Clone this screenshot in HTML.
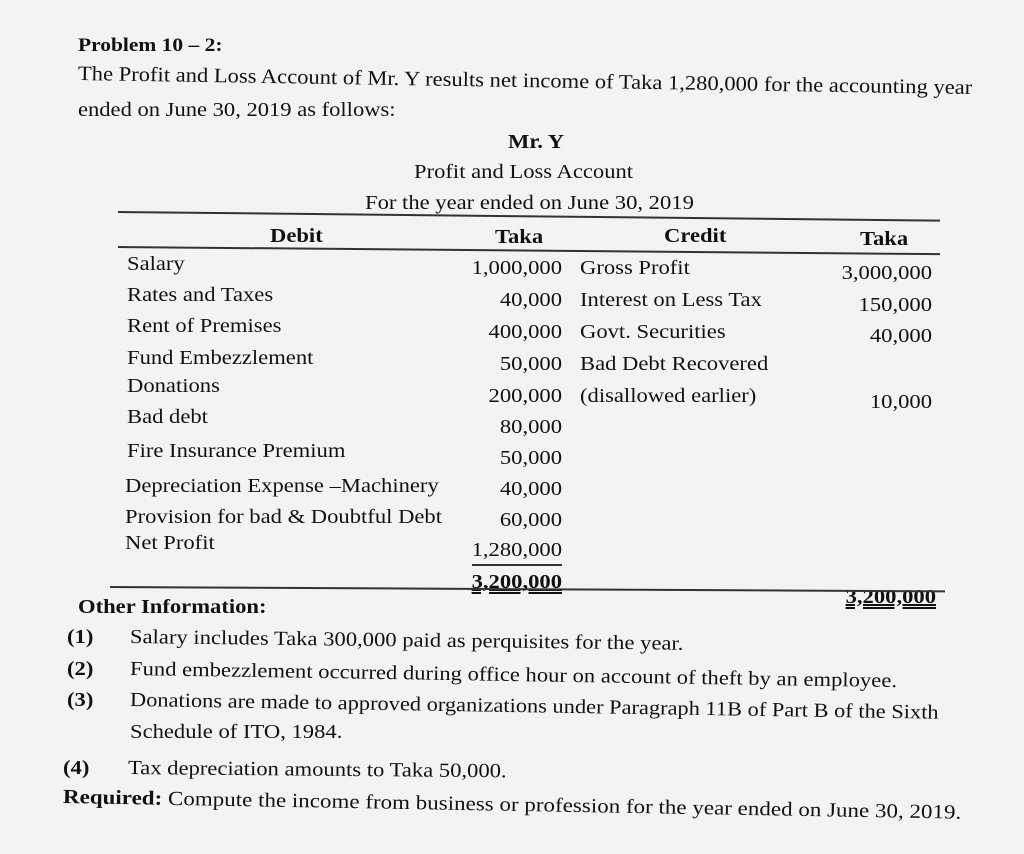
<!DOCTYPE html>
<html><head><meta charset="utf-8"><style>
html,body{margin:0;padding:0}
body{width:1024px;height:854px;background:#f3f3f1;position:relative;overflow:hidden;font-family:"Liberation Serif",serif;color:#111}
.t{position:absolute;white-space:nowrap;font-size:20px;line-height:1;transform-origin:0 50%;transform:scaleX(1.13)}
.b{font-weight:bold}
.r{text-align:right;transform-origin:100% 50%}
.l{position:absolute;height:1.5px;background:#333;transform-origin:0 0}
</style></head><body>
<div class="t b" style="left:78px;top:36px;font-size:19px">Problem 10 – 2:</div>
<div class="t" style="left:78px;top:64px;font-size:20.5px;transform:rotate(0.9deg) scaleX(1.1)">The Profit and Loss Account of Mr. Y results net income of Taka 1,280,000 for the accounting year</div>
<div class="t" style="left:78px;top:100px;font-size:20.5px;transform:scaleX(1.1)">ended on June 30, 2019 as follows:</div>
<div class="t b" style="left:508px;top:132px">Mr. Y</div>
<div class="t" style="left:414px;top:162px">Profit and Loss Account</div>
<div class="t" style="left:365px;top:193px">For the year ended on June 30, 2019</div>
<div class="l" style="left:118px;top:211px;width:822px;transform:rotate(0.6deg)"></div>
<div class="t b" style="left:270px;top:226px">Debit</div>
<div class="t b" style="left:495px;top:227px">Taka</div>
<div class="t b" style="left:664px;top:226px">Credit</div>
<div class="t b" style="left:860px;top:229px">Taka</div>
<div class="l" style="left:118px;top:246px;width:822px;transform:rotate(0.5deg)"></div>

<div class="t" style="left:127px;top:254px">Salary</div>
<div class="t" style="left:127px;top:285px">Rates and Taxes</div>
<div class="t" style="left:127px;top:316px">Rent of Premises</div>
<div class="t" style="left:127px;top:348px">Fund Embezzlement</div>
<div class="t" style="left:127px;top:376px">Donations</div>
<div class="t" style="left:127px;top:407px">Bad debt</div>
<div class="t" style="left:127px;top:441px">Fire Insurance Premium</div>
<div class="t" style="left:125px;top:476px">Depreciation Expense –Machinery</div>
<div class="t" style="left:125px;top:507px">Provision for bad &amp; Doubtful Debt</div>
<div class="t" style="left:125px;top:533px">Net Profit</div>

<div class="t r" style="right:462px;top:258px">1,000,000</div>
<div class="t r" style="right:462px;top:290px">40,000</div>
<div class="t r" style="right:462px;top:322px">400,000</div>
<div class="t r" style="right:462px;top:354px">50,000</div>
<div class="t r" style="right:462px;top:386px">200,000</div>
<div class="t r" style="right:462px;top:417px">80,000</div>
<div class="t r" style="right:462px;top:448px">50,000</div>
<div class="t r" style="right:462px;top:479px">40,000</div>
<div class="t r" style="right:462px;top:510px">60,000</div>
<div class="t r" style="right:462px;top:540px">1,280,000</div>
<div class="l" style="left:472px;top:564px;width:90px"></div>
<div class="t r b" style="right:462px;top:572px;text-decoration:underline double">3,200,000</div>

<div class="t" style="left:580px;top:258px">Gross Profit</div>
<div class="t" style="left:580px;top:290px">Interest on Less Tax</div>
<div class="t" style="left:580px;top:322px">Govt. Securities</div>
<div class="t" style="left:580px;top:354px">Bad Debt Recovered</div>
<div class="t" style="left:580px;top:386px">(disallowed earlier)</div>

<div class="t r" style="right:92px;top:263px">3,000,000</div>
<div class="t r" style="right:92px;top:295px">150,000</div>
<div class="t r" style="right:92px;top:326px">40,000</div>
<div class="t r" style="right:92px;top:392px">10,000</div>
<div class="t r b" style="right:88px;top:587px;text-decoration:underline double">3,200,000</div>
<div class="l" style="left:110px;top:586px;width:835px;transform:rotate(0.3deg)"></div>

<div class="t b" style="left:78px;top:597px">Other Information:</div>
<div class="t b" style="left:67px;top:627px">(1)</div>
<div class="t" style="left:130px;top:627px;transform:rotate(0.7deg) scaleX(1.13)">Salary includes Taka 300,000 paid as perquisites for the year.</div>
<div class="t b" style="left:67px;top:659px">(2)</div>
<div class="t" style="left:130px;top:659px;transform:rotate(0.9deg) scaleX(1.13)">Fund embezzlement occurred during office hour on account of theft by an employee.</div>
<div class="t b" style="left:67px;top:690px">(3)</div>
<div class="t" style="left:130px;top:690px;transform:rotate(0.9deg) scaleX(1.12)">Donations are made to approved organizations under Paragraph 11B of Part B of the Sixth</div>
<div class="t" style="left:130px;top:722px">Schedule of ITO, 1984.</div>
<div class="t b" style="left:63px;top:758px">(4)</div>
<div class="t" style="left:128px;top:758px;transform:rotate(0.5deg) scaleX(1.13)">Tax depreciation amounts to Taka 50,000.</div>
<div class="t" style="left:63px;top:787px;transform:rotate(1deg) scaleX(1.15)"><b>Required:</b> Compute the income from business or profession for the year ended on June 30, 2019.</div>
</body></html>
